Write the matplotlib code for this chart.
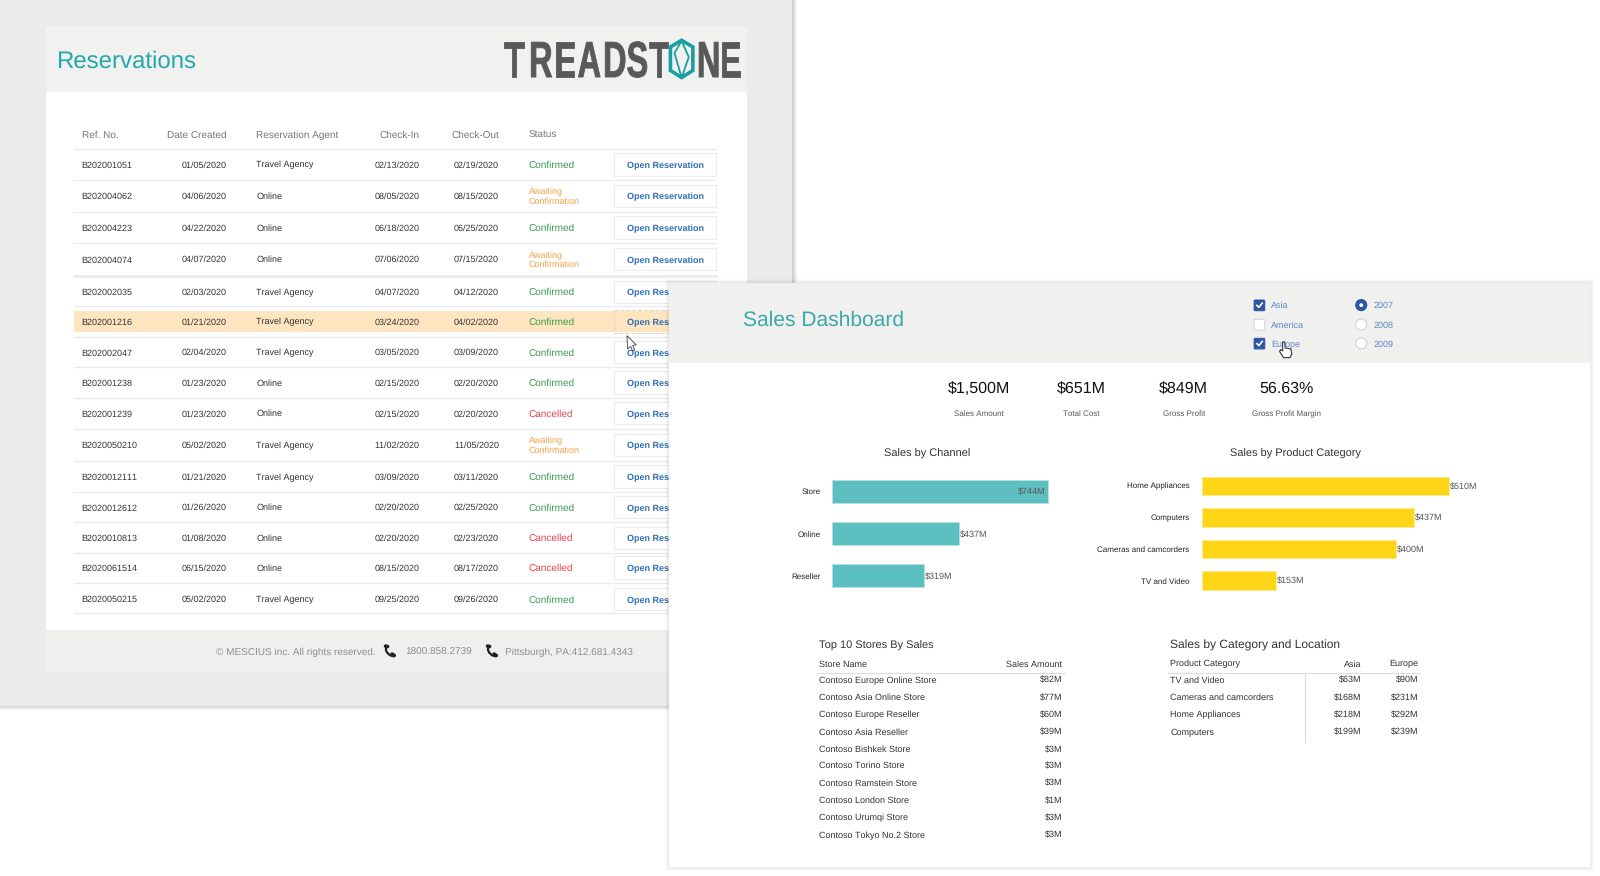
import matplotlib
matplotlib.use('Agg')
import matplotlib.pyplot as plt
from matplotlib.patches import Rectangle, Polygon, Circle, FancyBboxPatch
from matplotlib.patheffects import AbstractPathEffect
from matplotlib.transforms import Affine2D

plt.rcParams['font.family'] = ['Liberation Sans', 'DejaVu Sans']
plt.rcParams['text.hinting'] = 'no_hinting'
plt.rcParams['text.hinting_factor'] = 1

# reservations table
ref_no = ['B202001051', 'B202004062', 'B202004223', 'B202004074', 'B202002035',
          'B202001216', 'B202002047', 'B202001238', 'B202001239', 'B2020050210',
          'B2020012111', 'B2020012612', 'B2020010813', 'B2020061514', 'B2020050215']
created = ['01/05/2020', '04/06/2020', '04/22/2020', '04/07/2020', '02/03/2020',
           '01/21/2020', '02/04/2020', '01/23/2020', '01/23/2020', '05/02/2020',
           '01/21/2020', '01/26/2020', '01/08/2020', '06/15/2020', '05/02/2020']
agent = ['Travel Agency', 'Online', 'Online', 'Online', 'Travel Agency',
         'Travel Agency', 'Travel Agency', 'Online', 'Online', 'Travel Agency',
         'Travel Agency', 'Online', 'Online', 'Online', 'Travel Agency']
check_in = ['02/13/2020', '08/05/2020', '06/18/2020', '07/06/2020', '04/07/2020',
            '03/24/2020', '03/05/2020', '02/15/2020', '02/15/2020', '11/02/2020',
            '03/09/2020', '02/20/2020', '02/20/2020', '08/15/2020', '09/25/2020']
check_out = ['02/19/2020', '08/15/2020', '06/25/2020', '07/15/2020', '04/12/2020',
             '04/02/2020', '03/09/2020', '02/20/2020', '02/20/2020', '11/05/2020',
             '03/11/2020', '02/25/2020', '02/23/2020', '08/17/2020', '09/26/2020']
status = ['Confirmed', 'Awaiting\nConfirmation', 'Confirmed', 'Awaiting\nConfirmation', 'Confirmed',
          'Confirmed', 'Confirmed', 'Confirmed', 'Cancelled', 'Awaiting\nConfirmation',
          'Confirmed', 'Confirmed', 'Cancelled', 'Cancelled', 'Confirmed']

# dashboard numbers
kpi_values = ['$1,500M', '$651M', '$849M', '56.63%']
kpi_labels = ['Sales Amount', 'Total Cost', 'Gross Profit', 'Gross Profit Margin']
channels = ['Store', 'Online', 'Reseller']
channel_sales = [744, 437, 319]
categories = ['Home Appliances', 'Computers', 'Cameras and camcorders', 'TV and Video']
category_sales = [510, 437, 400, 153]
stores = ['Contoso Europe Online Store', 'Contoso Asia Online Store', 'Contoso Europe Reseller',
          'Contoso Asia Reseller', 'Contoso Bishkek Store', 'Contoso Torino Store',
          'Contoso Ramstein Store', 'Contoso London Store', 'Contoso Urumqi Store',
          'Contoso Tokyo No.2 Store']
store_sales = ['$82M', '$77M', '$60M', '$39M', '$3M', '$3M', '$3M', '$1M', '$3M', '$3M']
loc_categories = ['TV and Video', 'Cameras and camcorders', 'Home Appliances', 'Computers']
loc_asia = ['$63M', '$168M', '$218M', '$199M']
loc_europe = ['$90M', '$231M', '$292M', '$239M']
regions = ['Asia', 'America', 'Europe']
regions_on = [True, False, True]
years = ['2007', '2008', '2009']
year_on = [True, False, False]

W, H = 1568, 858.5
DARK = '#333333'
GREY = '#777777'
BLUE = '#2d55a5'
LINK = '#5b86c4'
STATUS_COLORS = {'Confirmed': '#3a9a52', 'Cancelled': '#e8434a'}

fig = plt.figure(figsize=(16, 8.76), dpi=100, facecolor='white')
bg = fig.add_axes([0, 0, 1, 1], zorder=0)
bg.set_xlim(0, W)
bg.set_ylim(H, 0)
bg.axis('off')


class Stretch(AbstractPathEffect):
    # the logo font is tall and narrow, no installed family has that shape
    def __init__(self, sx, sy, weight):
        super().__init__()
        self.sx = sx
        self.sy = sy
        self.weight = weight

    def draw_path(self, renderer, gc, tpath, affine, rgbFace=None):
        gc0 = renderer.new_gc()
        gc0.copy_properties(gc)
        gc0.set_linewidth(self.weight)
        gc0.set_foreground(rgbFace)
        renderer.draw_path(gc0, tpath, Affine2D().scale(self.sx, self.sy) + affine, rgbFace)
        gc0.restore()


def rect(x0, y0, x1, y1, color, z=1, **kw):
    bg.add_patch(Rectangle((x0, y0), x1 - x0, y1 - y0, facecolor=color, edgecolor='none', zorder=z, **kw))


def label(x, y, s, size=6.85, color=DARK, ha='left', z=3, **kw):
    # baseline placement keeps a whole row on one line
    bg.text(x, y + 0.36 * size * 1.36, s, fontsize=size, color=color, ha=ha, va='baseline', zorder=z, **kw)


def phone(x, y):
    # small handset next to the footer numbers
    bg.plot([x - 3.6, x - 3.8, x - 2.6, x + 0.2, x + 3.6], [y - 4.2, y - 1, y + 1.6, y + 4.2, y + 5.2],
            color='#222222', lw=1.6, solid_capstyle='round', zorder=3)
    bg.plot([x - 4.2, x - 2.2], [y - 4.8, y - 4.4], color='#222222', lw=2.6, solid_capstyle='round', zorder=3)
    bg.plot([x + 2.2, x + 4.4], [y + 3.0, y + 4.4], color='#222222', lw=2.6, solid_capstyle='round', zorder=3)


# --- back window: reservations ---
for i in range(5):
    rect(0, 0, 777 + i, 692 + i, '#000000', z=0.5, alpha=0.04)
rect(0, 0, 776, 692, '#ebebeb')
rect(45, 26, 732, 659, 'white', z=1.2)
rect(45, 26, 732, 90, '#f1f1f0', z=1.3)
rect(45, 617, 732, 659, '#efefee', z=1.3)
label(55, 58, 'Reservations', size=17.6, color='#22a9ac')

# logo letters, the O is drawn as a gem
logo_letters = 'TREADSTNE'
logo_left = [494, 518.5, 543, 566, 591, 614, 636, 683, 705]
for letter, lx in zip(logo_letters, logo_left):
    bg.text(lx, 75.5, letter, fontsize=18, color='#58595b', ha='left', va='baseline', zorder=3,
            fontweight='bold', path_effects=[Stretch(1.3, 2.03, 0.6)])
gem = [(668, 39.5), (679, 46), (679, 69), (668, 76), (657, 69), (657, 46)]
bg.add_patch(Polygon(gem, closed=True, fill=False, edgecolor='#1a9fa3', lw=2.6, zorder=3))
bg.plot([668, 661, 668, 675, 668], [40, 52, 76, 56, 40], color='#1a9fa3', lw=1.3, zorder=3)

# table header
label(80, 132, 'Ref. No.', color=GREY)
label(222, 132, 'Date Created', color=GREY, ha='right')
label(251, 132, 'Reservation Agent', color=GREY)
label(411, 132, 'Check-In', color=GREY, ha='right')
label(489, 132, 'Check-Out', color=GREY, ha='right')
label(518, 132, 'Status', color=GREY)

row_y = [161, 192, 223, 254, 286, 315, 345, 375, 405, 436, 467, 497, 527, 556, 587]
row_sep = [146, 176, 208, 238, 270, 300, 330, 360, 390, 420, 452, 482, 512, 542, 571, 601]
rect(73, 305, 702, 325.5, '#fde6bf', z=1.4)
for sy in row_sep:
    bg.plot([73, 702], [sy, sy], color='#ebebeb', lw=2 if sy == 270 else 1, zorder=1.5)

for i, y in enumerate(row_y):
    label(80, y, ref_no[i], size=6.8)
    label(222, y, created[i], size=6.4, ha='right')
    label(251, y, agent[i], size=6.3)
    label(411, y, check_in[i], size=6.4, ha='right')
    label(489, y, check_out[i], size=6.4, ha='right')
    col = STATUS_COLORS.get(status[i], '#f5a244')
    if '\n' in status[i]:
        bg.text(518, y + 0.8, status[i], fontsize=6.75, color=col, ha='left', va='center', zorder=3, linespacing=1.1)
    else:
        label(518, y, status[i], size=6.9, color=col)
    hilite = i == 5
    bg.add_patch(Rectangle((602, y - 11), 100, 22, facecolor='none' if hilite else 'white',
                           edgecolor='#e2d8c6' if hilite else '#ececec', lw=0.8, zorder=2,
                           ls='--' if hilite else '-'))
    label(652, y + 0.5, 'Open Reservation', size=6.4, color='#2e6fb7', ha='center', fontweight='bold')

# footer
FOOT = '#8f8f8f'
label(212, 638, '\u00a9 MESCIUS inc. All rights reserved.', size=6.85, color=FOOT)
label(397, 638, '1800.858.2739', size=6.9, color=FOOT)
label(495, 638, 'Pittsburgh, PA:412.681.4343', size=6.85, color=FOOT)
phone(382, 638)
phone(482, 638)

# --- front window: dashboard ---
for i in range(5):
    rect(656 - i, 277 - i, 1558 + i, 850 + i, '#000000', z=4, alpha=0.018)
rect(656, 277, 1558, 850, 'white', z=4.1)
rect(656, 277, 1558, 356, '#f0f0ee', z=4.2)
Z = 5
label(728, 312, 'Sales Dashboard', size=15, color='#3aa9a9', z=Z)

for name, on, y in zip(regions, regions_on, [299, 318, 336.5]):
    bg.add_patch(FancyBboxPatch((1229.5, y - 4.5), 9.5, 9.5, boxstyle='round,pad=0.5,rounding_size=1',
                                facecolor=BLUE if on else 'white', edgecolor=BLUE if on else '#ccd3e4',
                                lw=0.7, zorder=Z))
    if on:
        bg.plot([1231.8, 1233.7, 1237], [y + 0.3, y + 2.2, y - 2], color='white', lw=1.2, zorder=Z + 0.1)
    label(1245.5, y, name, size=6.6, color=LINK, z=Z)

for name, on, y in zip(years, year_on, [299, 318, 336.5]):
    bg.add_patch(Circle((1334, y), 5.4, facecolor=BLUE if on else 'white',
                        edgecolor=BLUE if on else '#ccd3e4', lw=0.8, zorder=Z))
    if on:
        bg.add_patch(Circle((1334, y), 1.9, facecolor='white', edgecolor='none', zorder=Z + 0.1))
    label(1346, y, name, size=6.6, color=LINK, z=Z)

for val, lab, x in zip(kpi_values, kpi_labels, [959, 1060, 1160, 1261]):
    label(x, 379.5, val, size=11.2, color='#111111', ha='center', z=Z)
    label(x, 405, lab, size=5.5, color='#555555', ha='center', z=Z)

label(909, 444, 'Sales by Channel', size=8.2, color=DARK, ha='center', z=Z)
label(1270, 444, 'Sales by Product Category', size=8.2, color=DARK, ha='center', z=Z)


def chart_axes(x0, y0, x1, y1):
    a = fig.add_axes([x0 / W, 1 - y1 / H, (x1 - x0) / W, (y1 - y0) / H], zorder=2)
    a.patch.set_alpha(0)
    for s in a.spines.values():
        s.set_visible(False)
    return a


ax1 = chart_axes(815, 461, 1043, 585)
ax1.barh(channels, channel_sales, height=0.55, color='#5dbfc1', edgecolor='#b5e3e4', lw=0.6)
ax1.set_xlim(0, 800)
ax1.set_ylim(2.5, -0.5)
ax1.set_xticks([])
ax1.tick_params(axis='y', length=0, pad=8, labelsize=5.5, labelcolor='#222222')
for i, v in enumerate(channel_sales):
    if v > 600:
        ax1.text(v - 10, i, f'${v}M', fontsize=6.4, color='#555555', ha='right', va='center_baseline')
    else:
        ax1.text(v + 3, i, f'${v}M', fontsize=6.4, color='#555555', ha='left', va='center_baseline')

ax2 = chart_axes(1178, 460.5, 1462.7, 584.5)
ax2.barh(categories, category_sales, height=0.58, color='#ffd617', edgecolor='#ffeb8a', lw=0.6)
ax2.set_xlim(0, 600)
ax2.set_ylim(3.5, -0.5)
ax2.set_xticks([])
ax2.tick_params(axis='y', length=0, pad=9, labelsize=5.5, labelcolor='#222222')
for i, v in enumerate(category_sales):
    ax2.text(v + 2, i, f'${v}M', fontsize=6.4, color='#555555', ha='left', va='center_baseline')

# bottom tables
label(803, 631.5, 'Top 10 Stores By Sales', size=8.2, color=DARK, z=Z)
label(803, 650, 'Store Name', size=6.6, color=DARK, z=Z)
label(1041, 650, 'Sales Amount', size=6.8, color=DARK, ha='right', z=Z)
bg.plot([802, 1043], [660, 660], color='#dddddd', lw=0.9, zorder=Z)
store_y = [666, 683, 700, 717, 734, 750, 767, 784, 801, 818]
for name, val, y in zip(stores, store_sales, store_y):
    label(803, y, name, size=6.15, color=DARK, z=Z)
    label(1041, y, val, size=6.15, color=DARK, ha='right', z=Z)

label(1147, 631.5, 'Sales by Category and Location', size=8.3, color=DARK, z=Z)
label(1147, 650, 'Product Category', size=6.6, color=DARK, z=Z)
label(1334, 650, 'Asia', size=6.6, color=DARK, ha='right', z=Z)
label(1390, 650, 'Europe', size=6.6, color=DARK, ha='right', z=Z)
bg.plot([1145, 1392], [660, 660], color='#dddddd', lw=0.9, zorder=Z)
bg.plot([1279, 1279], [660, 727], color='#dddddd', lw=0.9, zorder=Z)
for name, a_val, e_val, y in zip(loc_categories, loc_asia, loc_europe, store_y):
    label(1147, y, name, size=6.15, color=DARK, z=Z)
    label(1334, y, a_val, size=6.15, color=DARK, ha='right', z=Z)
    label(1390, y, e_val, size=6.15, color=DARK, ha='right', z=Z)

# mouse pointers
arrow = [(614.5, 329), (615, 342), (618, 339.5), (620, 344), (622, 343), (620, 338.5), (623.5, 338)]
bg.add_patch(Polygon(arrow, closed=True, facecolor='white', edgecolor='#555555', lw=0.7, zorder=3.5))
hand = [(1257, 335), (1259, 335), (1259.5, 341), (1265, 342), (1266, 347), (1264, 350.5),
        (1258, 350.5), (1254, 344.5), (1255, 342.5), (1257, 344)]
bg.add_patch(Polygon(hand, closed=True, facecolor='white', edgecolor='#333333', lw=0.8, zorder=Z + 1))

fig.savefig('out.png', dpi=100)
